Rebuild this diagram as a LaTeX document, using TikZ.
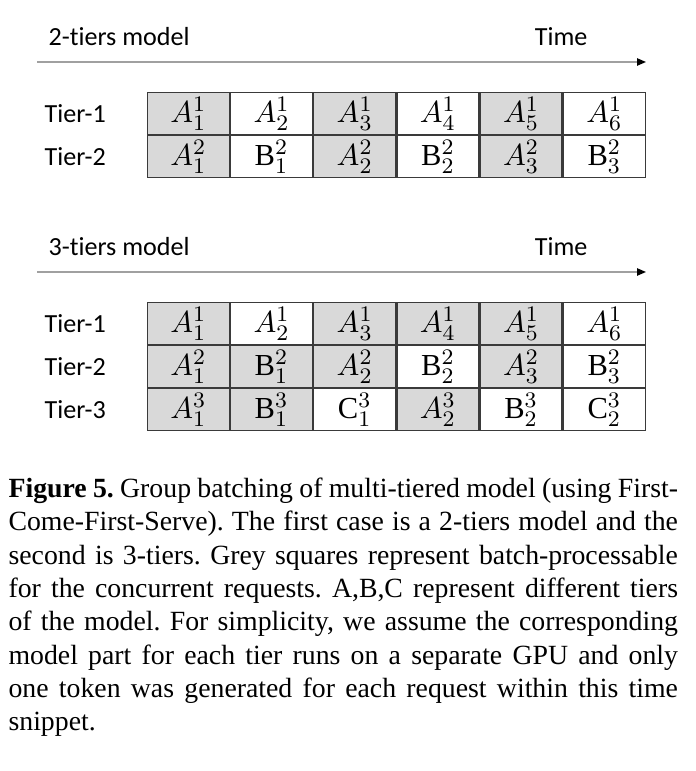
\documentclass[tikz,border=0pt]{standalone}
\usepackage{fontspec}
\setmainfont{Liberation Serif}
\newfontfamily\labelfont[Ligatures=NoCommon]{Carlito}
\usepackage{xcolor}
\usetikzlibrary{arrows.meta,positioning}
\definecolor{cellgrey}{HTML}{D9D9D9}
\definecolor{gridline}{HTML}{3A3A3A}
\definecolor{axisgrey}{HTML}{A0A0A0}
\tikzset{
  cellbase/.style={draw=gridline,line width=0.5pt,outer sep=0pt,minimum width=29.45pt,minimum height=15pt,inner sep=0pt,font=\fontsize{11}{12}\selectfont},
  shaded/.style={cellbase,fill=cellgrey},
  plain/.style={cellbase,fill=white},
  tierlabel/.style={anchor=west,inner sep=0pt,font=\labelfont\fontsize{9.4}{11}\selectfont},
  titlelabel/.style={inner sep=0pt,font=\labelfont\fontsize{9.4}{11}\selectfont},
  timeline/.style={draw=axisgrey,line width=0.55pt,-{Triangle[length=3.2pt,width=2.6pt,color=black]}}
}
\newcommand{\Bt}{\mathrm{B}}
\newcommand{\Ct}{\mathrm{C}}

\begin{document}
\begin{tikzpicture}[x=0.36pt,y=-0.36pt]
  \useasboundingbox (0,0) rectangle (695,771);

  % 2-tiers model
  \node[titlelabel,anchor=base west] (two-title) at (48,46) {2-tiers model};
  \node[titlelabel,anchor=base east] (two-time) at (588,46) {Time};
  \coordinate (two-start) at (37,62);
  \coordinate (two-end) at (646,62);
  \draw[timeline] (two-start) -- (two-end);

  \node[tierlabel] (two-tier1) at (44,113.5) {Tier-1};
  \node[tierlabel] (two-tier2) at (44,156.5) {Tier-2};
  \foreach \sty/\txt [count=\i from 0] in {shaded/{A^1_1},plain/{A^1_2},shaded/{A^1_3},plain/{A^1_4},shaded/{A^1_5},plain/{A^1_6}}
    \node[\sty] (two-r1-\i) at ({188.3+83.2*\i},113.5) {$\txt$};
  \foreach \sty/\txt [count=\i from 0] in {shaded/{A^2_1},plain/{\Bt^2_1},shaded/{A^2_2},plain/{\Bt^2_2},shaded/{A^2_3},plain/{\Bt^2_3}}
    \node[\sty] (two-r2-\i) at ({188.3+83.2*\i},156.5) {$\txt$};

  % 3-tiers model
  \node[titlelabel,anchor=base west] (three-title) at (48,256) {3-tiers model};
  \node[titlelabel,anchor=base east] (three-time) at (588,256) {Time};
  \coordinate (three-start) at (37,272);
  \coordinate (three-end) at (646,272);
  \draw[timeline] (three-start) -- (three-end);

  \node[tierlabel] (three-tier1) at (44,323.5) {Tier-1};
  \node[tierlabel] (three-tier2) at (44,366.5) {Tier-2};
  \node[tierlabel] (three-tier3) at (44,409.5) {Tier-3};
  \foreach \sty/\txt [count=\i from 0] in {shaded/{A^1_1},plain/{A^1_2},shaded/{A^1_3},shaded/{A^1_4},shaded/{A^1_5},plain/{A^1_6}}
    \node[\sty] (three-r1-\i) at ({188.3+83.2*\i},323.5) {$\txt$};
  \foreach \sty/\txt [count=\i from 0] in {shaded/{A^2_1},shaded/{\Bt^2_1},shaded/{A^2_2},plain/{\Bt^2_2},shaded/{A^2_3},plain/{\Bt^2_3}}
    \node[\sty] (three-r2-\i) at ({188.3+83.2*\i},366.5) {$\txt$};
  \foreach \sty/\txt [count=\i from 0] in {shaded/{A^3_1},shaded/{\Bt^3_1},plain/{\Ct^3_1},shaded/{A^3_2},plain/{\Bt^3_2},plain/{\Ct^3_2}}
    \node[\sty] (three-r3-\i) at ({188.3+83.2*\i},409.5) {$\txt$};

  % caption
  \node[anchor=north west,inner sep=0pt,text width=241pt,align=justify,
        font=\fontsize{10}{12}\selectfont] (caption) at (8,477.5)
    {\frenchspacing\hyphenpenalty=10000\tolerance=10000
     \textbf{Figure 5.} Group batching of multi-tiered model (using First-\linebreak
     Come-First-Serve). The first case is a 2-tiers model and the\linebreak
     second is 3-tiers. Grey squares represent batch-processable\linebreak
     for the concurrent requests. A,B,C represent different tiers\linebreak
     of the model. For simplicity, we assume the corresponding\linebreak
     model part for each tier runs on a separate GPU and only\linebreak
     one token was generated for each request within this time\linebreak
     snippet.};
\end{tikzpicture}
\end{document}
